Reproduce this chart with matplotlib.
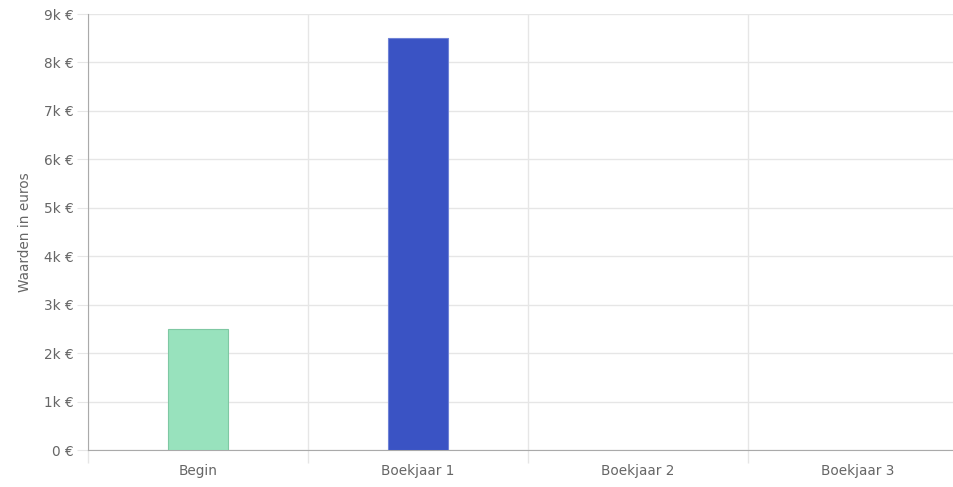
import matplotlib
matplotlib.use("Agg")
import matplotlib.pyplot as plt
from matplotlib.ticker import FuncFormatter, FixedLocator

categories = ["Begin", "Boekjaar 1", "Boekjaar 2", "Boekjaar 3"]
values = [2500, 8500, 0, 0]
colors = ["#98e2bd", "#3a53c4", "#98e2bd", "#3a53c4"]
edges = ["#7fc8a3", "#6f82d6", "#7fc8a3", "#6f82d6"]

plt.rcParams['font.family'] = ['DejaVu Sans']

W, H = 954, 487
fig = plt.figure(figsize=(W/100, H/100), dpi=100)
ax = fig.add_axes([88/W, (H-450)/H, 880/W, 436/H])

x = list(range(len(categories)))
for xi, v, c, e in zip(x, values, colors, edges):
    if v > 0:
        ax.bar(xi, v, width=60/220, color=c, edgecolor=e, linewidth=0.8, zorder=3)

ax.set_xlim(-0.5, len(categories) - 0.5)
ax.set_ylim(0, 9000)
ax.set_yticks(range(0, 9001, 1000))
ax.yaxis.set_major_formatter(FuncFormatter(lambda v, p: "0 €" if v == 0 else f"{int(v/1000)}k €"))
ax.set_xticks(x)
ax.set_xticklabels(categories)
ax.xaxis.set_minor_locator(FixedLocator([i - 0.5 for i in range(len(categories) + 1)]))

ax.grid(axis='y', which='major', color='#e6e6e6', linewidth=1, zorder=0)
ax.grid(axis='x', which='minor', color='#e6e6e6', linewidth=1, zorder=0)

for s in ['top', 'right']:
    ax.spines[s].set_visible(False)
ax.spines['left'].set_color('#aaaaaa')
ax.spines['bottom'].set_color('#aaaaaa')
ax.spines['left'].set_bounds(0, 9000)

ax.tick_params(axis='x', which='major', length=0, pad=10, labelsize=9.8, labelcolor='#666666')
ax.tick_params(axis='x', which='minor', length=9, color='#e6e6e6', width=1)
ax.tick_params(axis='y', length=8, color='#e6e6e6', labelsize=9.8, labelcolor='#666666', pad=2)

ax.set_ylabel("Waarden in euros", fontsize=9.8, color='#666666', labelpad=9)

fig.savefig("out.png", dpi=100)
